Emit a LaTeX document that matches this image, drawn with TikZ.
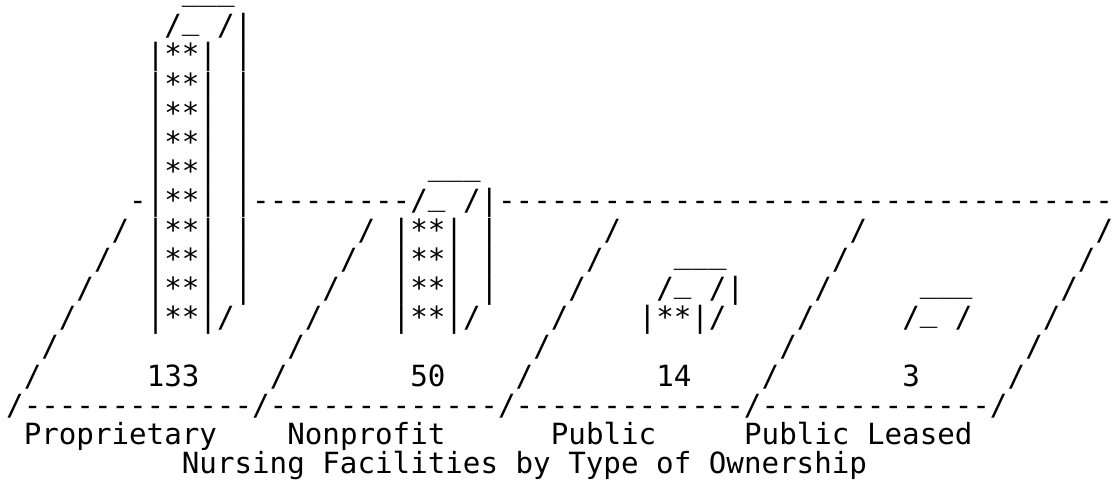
\documentclass[tikz,border=0pt]{standalone}
\usepackage{fontspec}
\setmonofont{DejaVu Sans Mono}
\newcommand\us{\raisebox{0.2em}{\_}}
\newcommand\putseg[5][]{\node[asc,#1] (#2) at ({6.2+17.57*(#4)},{6.5+29.2*(#3)}) {#5};}
\begin{document}
\begin{tikzpicture}[x=0.5pt,y=-0.5pt,
  asc/.style={font=\ttfamily\fontsize{14.59pt}{14.59pt}\selectfont,
    inner sep=0pt, outer sep=0pt, anchor=base west, text=black},
  lid/.style={text height=0.1em}]
\useasboundingbox (0,0) rectangle (1114,485);
% floor: back line
\putseg{backA}{7}{7}{-}
\putseg{backB}{7}{14}{---------}
\putseg{backC}{7}{28}{-----------------------------------}
% floor: slanted dividers
\foreach \r in {8,...,13}{
  \foreach \k in {0,...,4}{
    \putseg{fl\r\k}{\r}{14-\r+14*\k}{/}
  }
}
% floor: front line
\putseg{front}{14}{0}{/-------------/-------------/-------------/-------------/}
% bar 1: Proprietary
\putseg[lid]{bAtop}{0}{10}{\us\us\us}
\putseg{bAcap}{1}{9}{/\us~/|}
\foreach \r in {2,...,10}{\putseg{bA\r}{\r}{8}{|**|~|}}
\putseg{bAbot}{11}{8}{|**|/}
% bar 2: Nonprofit
\putseg[lid]{bBtop}{6}{24}{\us\us\us}
\putseg{bBcap}{7}{23}{/\us~/|}
\foreach \r in {8,...,10}{\putseg{bB\r}{\r}{22}{|**|~|}}
\putseg{bBbot}{11}{22}{|**|/}
% bar 3: Public
\putseg[lid]{bCtop}{9}{38}{\us\us\us}
\putseg{bCcap}{10}{37}{/\us~/|}
\putseg{bCbot}{11}{36}{|**|/}
% bar 4: Public Leased
\putseg[lid]{bDtop}{10}{52}{\us\us\us}
\putseg{bDcap}{11}{51}{/\us~/}
% values
\putseg{vA}{13}{8}{133}
\putseg{vB}{13}{23}{50}
\putseg{vC}{13}{37}{14}
\putseg{vD}{13}{51}{3}
% category labels
\putseg{lA}{15}{1}{Proprietary}
\putseg{lB}{15}{16}{Nonprofit}
\putseg{lC}{15}{31}{Public}
\putseg{lD}{15}{42}{Public~Leased}
% title
\putseg{title}{16}{10}{Nursing~Facilities~by~Type~of~Ownership}
\end{tikzpicture}
\end{document}
